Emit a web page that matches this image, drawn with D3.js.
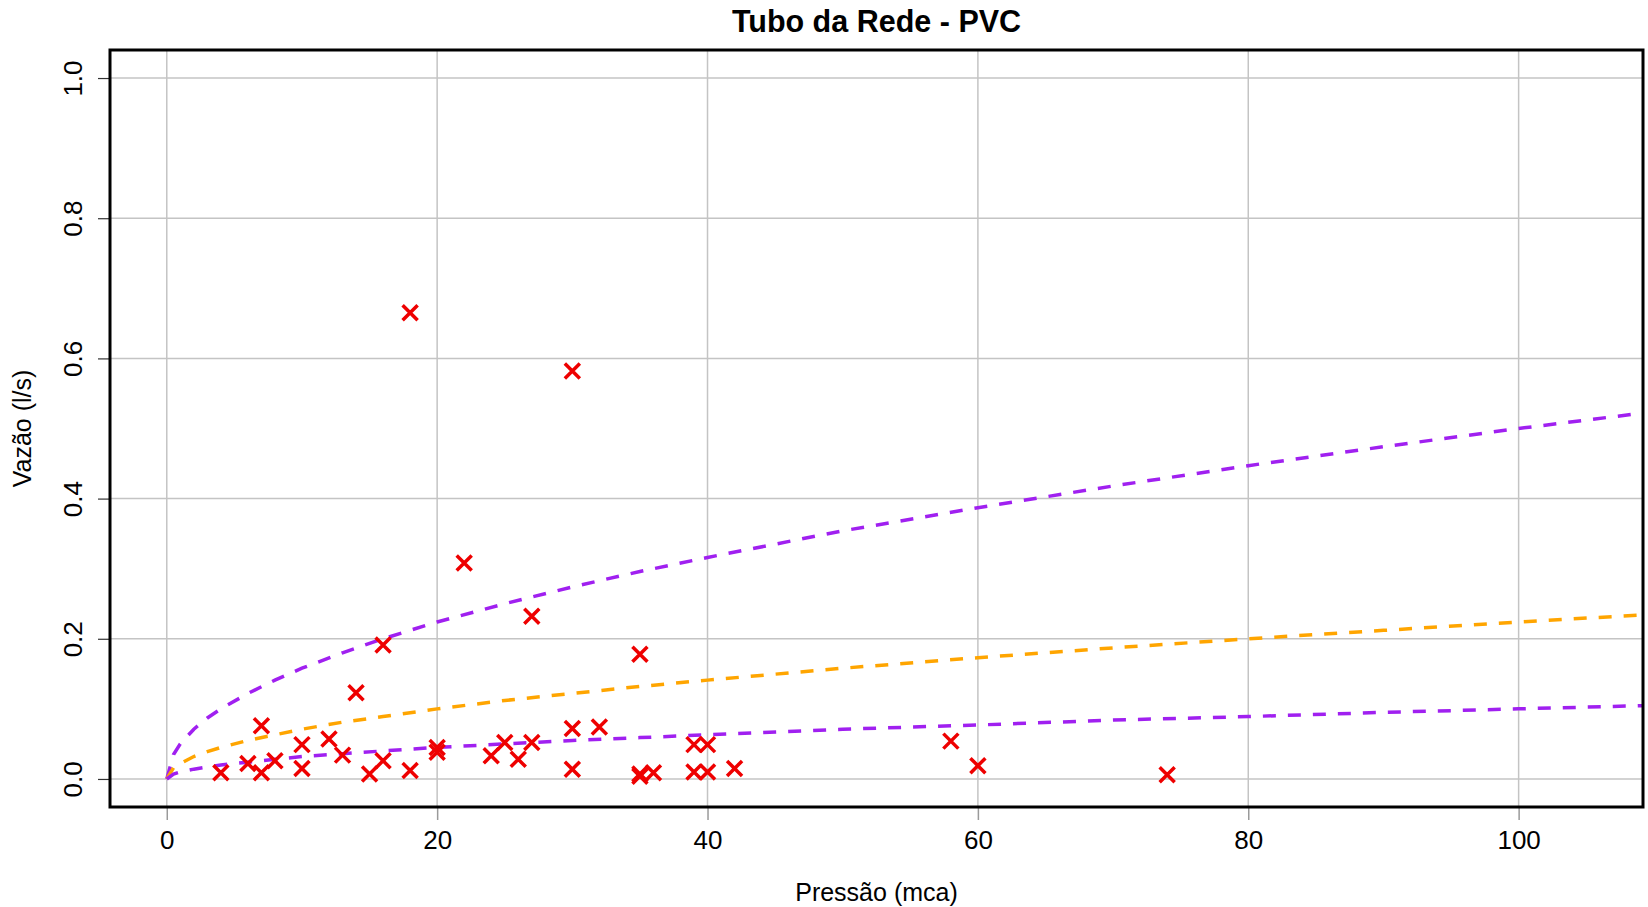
<!DOCTYPE html>
<html>
<head>
<meta charset="utf-8">
<script src="https://cdn.jsdelivr.net/npm/d3@7"></script>
<style>
  body { margin: 0; background: #fff; }
  svg { display: block; font-family: "Liberation Sans", Arial, sans-serif; }
</style>
</head>
<body>
<svg id="chart"></svg>
<script>
// measured points: pressure (mca) and flow (l/s)
const pressao = [4, 6, 7, 7, 8, 10, 10, 12, 13, 14, 15, 16, 16, 18, 18, 20, 20, 22, 24, 25, 26, 27, 27,
  30, 30, 30, 32, 35, 35, 35, 36, 39, 39, 40, 40, 42, 58, 60, 74];
const vazao = [0.009, 0.022, 0.009, 0.076, 0.026, 0.049, 0.015, 0.057, 0.034, 0.123, 0.007, 0.026, 0.191,
  0.012, 0.665, 0.045, 0.038, 0.308, 0.033, 0.052, 0.028, 0.052, 0.232,
  0.582, 0.072, 0.014, 0.074, 0.178, 0.004, 0.007, 0.009, 0.049, 0.010, 0.049, 0.010, 0.015, 0.054, 0.019, 0.006];

// dashed curves
const curvaP = [0, 0.5, 1, 2, 3, 4, 6, 8, 10, 13, 16, 20, 25, 30, 35, 40, 50, 60, 70, 80, 90, 100, 110];
const curvaSup = [0, 0.035, 0.05, 0.071, 0.087, 0.10, 0.122, 0.141, 0.158, 0.18, 0.20, 0.224, 0.25, 0.274,
  0.296, 0.316, 0.354, 0.387, 0.418, 0.447, 0.474, 0.50, 0.524];
const curvaMed = [0, 0.016, 0.022, 0.032, 0.039, 0.045, 0.055, 0.063, 0.071, 0.081, 0.089, 0.10, 0.112, 0.122,
  0.132, 0.141, 0.158, 0.173, 0.187, 0.20, 0.212, 0.224, 0.235];
const curvaInf = [0, 0.007, 0.01, 0.014, 0.017, 0.02, 0.024, 0.028, 0.032, 0.036, 0.04, 0.045, 0.05, 0.055,
  0.059, 0.063, 0.071, 0.077, 0.084, 0.089, 0.095, 0.10, 0.105];

const xTicks = [0, 20, 40, 60, 80, 100];
const yTicks = [0, 0.2, 0.4, 0.6, 0.8, 1.0];

const width = 1648;
const height = 907;
const box = { left: 110, right: 1643, top: 50, bottom: 807 };

const svg = d3.select('#chart').attr('width', width).attr('height', height);

const x = d3.scaleLinear().domain([-4.2, 109.2]).range([box.left, box.right]);
const y = d3.scaleLinear().domain([-0.04, 1.04]).range([box.bottom, box.top]);

svg.append('defs').append('clipPath').attr('id', 'plotclip')
  .append('rect')
  .attr('x', box.left).attr('y', box.top)
  .attr('width', box.right - box.left).attr('height', box.bottom - box.top);

// grid
const grid = svg.append('g');
grid.selectAll('.gx').data(xTicks).enter().append('line')
  .attr('x1', d => x(d)).attr('x2', d => x(d))
  .attr('y1', box.top).attr('y2', box.bottom)
  .attr('stroke', '#c4c4c4').attr('stroke-width', 1.5);
grid.selectAll('.gy').data(yTicks).enter().append('line')
  .attr('x1', box.left).attr('x2', box.right)
  .attr('y1', d => y(d)).attr('y2', d => y(d))
  .attr('stroke', '#c4c4c4').attr('stroke-width', 1.5);

// axes
const xAxis = svg.append('g')
  .attr('transform', 'translate(0,' + box.bottom + ')')
  .call(d3.axisBottom(x).tickValues(xTicks).tickSize(13).tickPadding(11).tickFormat(d3.format('d')));
xAxis.select('.domain').remove();
xAxis.selectAll('line').attr('stroke', '#9a9a9a').attr('stroke-width', 1.5);
xAxis.selectAll('text').style('font-size', '26px').attr('fill', '#000');

const yAxis = svg.append('g')
  .attr('transform', 'translate(' + box.left + ',0)')
  .call(d3.axisLeft(y).tickValues(yTicks).tickSize(12).tickFormat(d3.format('.1f')));
yAxis.select('.domain').remove();
yAxis.selectAll('line').attr('stroke', '#333').attr('stroke-width', 1.2);
yAxis.selectAll('text')
  .attr('x', null)
  .attr('text-anchor', 'middle')
  .attr('transform', 'translate(-37,0) rotate(-90)')
  .attr('y', 0)
  .attr('dy', '0.35em')
  .style('font-size', '26px').attr('fill', '#000');

// curves
const line = d3.line().x(d => x(d[0])).y(d => y(d[1]));
const curvas = [
  { vals: curvaSup, color: '#a020f0' },
  { vals: curvaMed, color: '#ffa500' },
  { vals: curvaInf, color: '#a020f0' }
];
const plot = svg.append('g').attr('clip-path', 'url(#plotclip)');
curvas.forEach(c => {
  plot.append('path')
    .datum(curvaP.map((p, i) => [p, c.vals[i]]))
    .attr('d', line)
    .attr('fill', 'none')
    .attr('stroke', c.color)
    .attr('stroke-width', 3.5)
    .attr('stroke-dasharray', '13,12');
});

// points as crosses
const s = 7.5;
const pts = plot.selectAll('.pt').data(pressao.map((p, i) => [p, vazao[i]])).enter().append('g')
  .attr('transform', d => 'translate(' + x(d[0]) + ',' + y(d[1]) + ')');
pts.append('path')
  .attr('d', 'M' + -s + ',' + -s + 'L' + s + ',' + s + 'M' + -s + ',' + s + 'L' + s + ',' + -s)
  .attr('stroke', '#ee0000')
  .attr('stroke-width', 3.5)
  .attr('fill', 'none');

// box
svg.append('rect')
  .attr('x', box.left).attr('y', box.top)
  .attr('width', box.right - box.left).attr('height', box.bottom - box.top)
  .attr('fill', 'none').attr('stroke', '#000').attr('stroke-width', 3);

// titles
svg.append('text')
  .attr('x', (box.left + box.right) / 2).attr('y', 32)
  .attr('text-anchor', 'middle')
  .style('font-size', '30.5px').style('font-weight', 'bold')
  .text('Tubo da Rede - PVC');

svg.append('text')
  .attr('x', (box.left + box.right) / 2).attr('y', 901)
  .attr('text-anchor', 'middle')
  .style('font-size', '25px')
  .text('Pressão (mca)');

svg.append('text')
  .attr('transform', 'translate(31,' + (box.top + box.bottom) / 2 + ') rotate(-90)')
  .attr('text-anchor', 'middle')
  .style('font-size', '25px')
  .text('Vazão (l/s)');
</script>
</body>
</html>
